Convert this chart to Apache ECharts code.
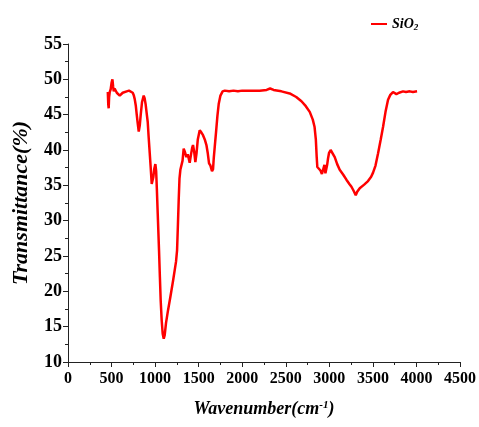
<!DOCTYPE html>
<html>
<head>
<meta charset="utf-8">
<script src="https://cdn.jsdelivr.net/npm/echarts@6/dist/echarts.min.js"></script>
<style>html,body{margin:0;padding:0;background:#fff}#c{width:479px;height:427px}</style>
</head>
<body>
<div id="c"></div>
<script>
const seriesName = 'SiO2';
const wavenumber = [457,462,467,472,479,490,500,510,518,525,535,548,560,575,594,610,628,650,674,700,720,743,756,766,778,789,800,812,824,835,850,869,880,892,905,915,926,938,950,961,972,980,990,1003,1012,1020,1030,1045,1055,1064,1075,1087,1099,1110,1125,1148,1175,1206,1225,1240,1252,1262,1271,1280,1290,1305,1315,1328,1340,1359,1375,1397,1410,1425,1435,1448,1462,1475,1490,1512,1530,1550,1570,1589,1605,1619,1635,1653,1665,1673,1685,1700,1715,1730,1750,1775,1800,1850,1900,1950,2000,2100,2200,2280,2320,2360,2450,2545,2620,2680,2730,2775,2810,2830,2845,2855,2862,2880,2898,2915,2928,2944,2955,2962,2975,2985,2997,3015,3030,3062,3090,3119,3160,3196,3230,3254,3280,3303,3320,3349,3400,3444,3480,3502,3530,3559,3590,3617,3645,3674,3700,3731,3750,3770,3800,3846,3880,3923,3960,4007];
const transmittance = [48.2,46.5,45.9,47.5,48.2,48.6,49.5,50.0,49.0,48.3,48.7,48.5,48.1,47.9,47.7,47.9,48.1,48.2,48.3,48.4,48.4,48.1,47.7,47.2,46.3,45.0,43.8,42.6,43.5,45.0,46.8,47.7,47.3,46.4,45.0,44.0,41.8,39.6,37.4,35.2,35.0,36.2,37.3,38.0,37.0,34.5,31.0,25.8,22.0,18.7,16.0,14.0,13.3,13.8,15.5,17.3,19.2,21.5,23.0,24.2,25.8,29.5,33.0,36.0,37.2,37.4,38.5,40.2,39.8,39.0,39.4,38.2,39.2,40.3,40.7,39.8,38.3,39.5,41.5,42.8,42.5,42.1,41.5,40.7,39.5,38.1,37.8,37.0,37.3,38.8,40.5,42.6,44.8,46.5,47.7,48.3,48.4,48.3,48.4,48.3,48.4,48.4,48.4,48.5,48.7,48.5,48.3,48.0,47.5,46.9,46.2,45.4,44.3,43.3,41.5,39.0,37.6,37.4,37.1,36.6,36.7,37.9,36.7,36.6,37.9,38.8,39.6,40.0,39.8,39.0,38.0,37.2,36.5,35.8,35.2,34.8,34.2,33.6,34.1,34.6,35.1,35.6,36.2,36.8,37.8,39.5,41.5,43.3,45.4,47.1,47.8,48.2,48.0,47.9,48.1,48.3,48.2,48.3,48.2,48.3];
const xTicks = {min: 0, max: 4500, interval: 500};
const yTicks = {min: 10, max: 55, interval: 5};

const font = 'Liberation Serif';
const chart = echarts.init(document.getElementById('c'), null, {renderer: 'canvas'});
const axisCommon = {
  axisLine: {show: true, lineStyle: {color: '#222', width: 1}},
  axisTick: {show: true, inside: false, length: 5, lineStyle: {color: '#222'}},
  minorTick: {show: true, splitNumber: 2, length: 3, lineStyle: {color: '#222'}},
  splitLine: {show: false}
};
chart.setOption({
  animation: false,
  backgroundColor: '#fff',
  grid: {left: 68, right: 19, top: 44, bottom: 65},
  legend: {
    left: 366, top: 12,
    itemWidth: 16, itemHeight: 2, itemGap: 4,
    data: [{name: seriesName, icon: 'rect'}],
    formatter: () => 'SiO{sub|2}',
    textStyle: {
      fontFamily: font, fontWeight: 'bold', fontStyle: 'italic', fontSize: 14, color: '#000',
      rich: {sub: {fontFamily: font, fontWeight: 'bold', fontStyle: 'italic', fontSize: 9, color: '#000', verticalAlign: 'bottom', padding: [8, 0, 0, 0]}}
    }
  },
  xAxis: Object.assign({
    type: 'value', min: xTicks.min, max: xTicks.max, interval: xTicks.interval,
    name: 'Wavenumber(cm{sup|-1})',
    nameLocation: 'middle', nameGap: 38,
    nameTextStyle: {
      fontFamily: font, fontWeight: 'bold', fontStyle: 'italic', fontSize: 18, color: '#000',
      rich: {sup: {fontFamily: font, fontWeight: 'bold', fontStyle: 'italic', fontSize: 11, color: '#000', verticalAlign: 'top', padding: [0, 0, 8, 0]}}
    },
    axisLabel: {fontFamily: font, fontWeight: 'bold', fontSize: 16, color: '#000', margin: 9, formatter: v => String(v)}
  }, axisCommon),
  yAxis: Object.assign({
    type: 'value', min: yTicks.min, max: yTicks.max, interval: yTicks.interval,
    name: 'Transmittance(%)',
    nameLocation: 'middle', nameGap: 36,
    nameTextStyle: {fontFamily: font, fontWeight: 'bold', fontStyle: 'italic', fontSize: 22, color: '#000'},
    axisLabel: {fontFamily: font, fontWeight: 'bold', fontSize: 18, color: '#000', margin: 6, formatter: v => String(v)}
  }, axisCommon),
  series: [{
    name: seriesName,
    type: 'line',
    symbol: 'none',
    smooth: false,
    lineStyle: {color: '#ff0000', width: 2.5},
    itemStyle: {color: '#ff0000'},
    data: wavenumber.map((w, i) => [w, transmittance[i]])
  }]
});
</script>
</body>
</html>
